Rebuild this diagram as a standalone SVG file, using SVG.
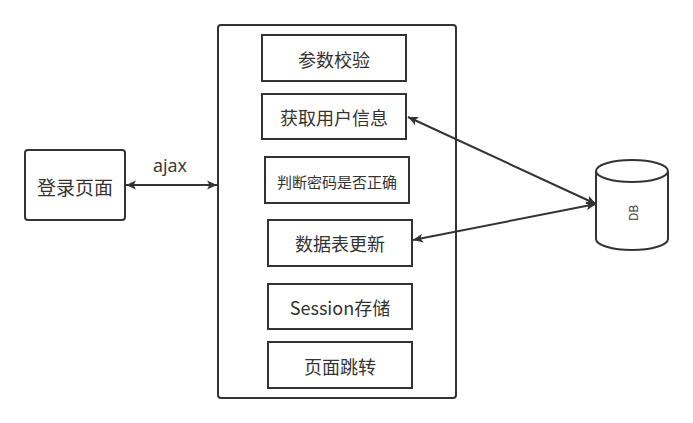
<svg xmlns="http://www.w3.org/2000/svg" width="693" height="423" viewBox="0 0 693 423">
<defs>
<marker id="ah" viewBox="0 0 10 10" refX="10" refY="5" markerWidth="10" markerHeight="10" markerUnits="userSpaceOnUse" orient="auto-start-reverse">
<path d="M0,0.5 L10,5 L0,9.5 L2.5,5 Z" fill="#333"/>
</marker>
<style>
.box{fill:#fff;stroke:#333;stroke-width:2}
.t{font-family:"Noto Sans CJK SC","Liberation Sans",sans-serif;fill:#333;text-anchor:middle;dominant-baseline:central}
.c{stroke:#333;stroke-width:2;fill:none;marker-start:url(#ah);marker-end:url(#ah)}
</style>
</defs>
<rect width="693" height="423" fill="#fff"/>
<g id="login"><rect class="box" x="25" y="150" width="100" height="70" rx="3"/><text class="t" x="75" y="186" font-size="19">登录页面</text></g>
<g id="server"><rect class="box" x="218" y="25" width="238" height="373" rx="3"/></g>
<g id="n1"><rect class="box" x="262" y="35" width="144" height="46"/><text class="t" x="334" y="59" font-size="18">参数校验</text></g>
<g id="n2"><rect class="box" x="262" y="94" width="144" height="45"/><text class="t" x="334" y="117" font-size="18">获取用户信息</text></g>
<g id="n3"><rect class="box" x="265" y="157" width="144" height="46"/><text class="t" x="337" y="181" font-size="15">判断密码是否正确</text></g>
<g id="n4"><rect class="box" x="268" y="220" width="144" height="46"/><text class="t" x="340" y="243" font-size="18">数据表更新</text></g>
<g id="n5"><rect class="box" x="268" y="284" width="144" height="45"/><text class="t" x="340" y="307" font-size="18">Session存储</text></g>
<g id="n6"><rect class="box" x="268" y="342" width="144" height="46"/><text class="t" x="340" y="366" font-size="18">页面跳转</text></g>
<g id="db">
<path class="box" d="M596,171 A36,11 0 0 1 668,171 L668,239 A36,11 0 0 1 596,239 Z"/>
<path d="M596,171 A36,11 0 0 0 668,171" fill="none" stroke="#333" stroke-width="2"/>
<text class="t" x="632" y="213" font-size="12" transform="rotate(-90 632 213)">DB</text>
</g>
<g id="connectors">
<line class="c" x1="126" y1="185" x2="217" y2="185"/>
<text class="t" x="170" y="165" font-size="18" style="font-family:'Open Sans','Liberation Sans',sans-serif">ajax</text>
<line class="c" x1="408" y1="117" x2="596" y2="204"/>
<line class="c" x1="413" y1="240" x2="596" y2="204"/>
</g>
</svg>
